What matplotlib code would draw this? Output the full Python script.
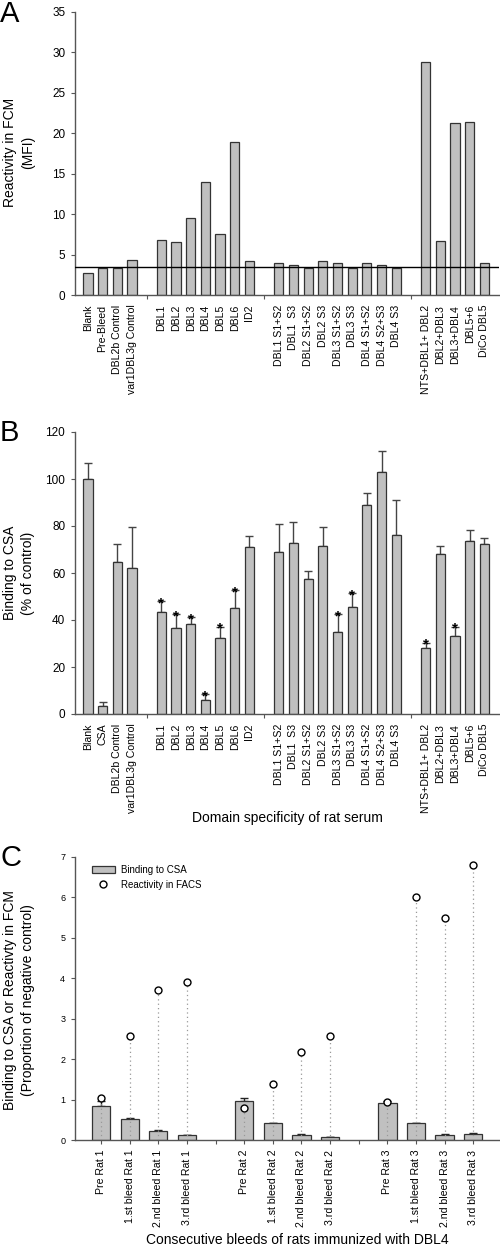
import numpy as np
import matplotlib.pyplot as plt

plt.rcParams['font.family'] = ['Liberation Sans', 'DejaVu Sans']

# ---- data ----
a_labels = ['Blank', 'Pre-Bleed', 'DBL2b Control', 'var1DBL3g Control',
            'DBL1', 'DBL2', 'DBL3', 'DBL4', 'DBL5', 'DBL6', 'ID2',
            'DBL1 S1+S2', 'DBL1  S3', 'DBL2 S1+S2', 'DBL2 S3', 'DBL3 S1+S2',
            'DBL3 S3', 'DBL4 S1+S2', 'DBL4 S2+S3', 'DBL4 S3',
            'NTS+DBL1+ DBL2', 'DBL2+DBL3', 'DBL3+DBL4', 'DBL5+6', 'DiCo DBL5']
a_values = [2.7, 3.4, 3.4, 4.3,
            6.8, 6.5, 9.5, 14.0, 7.5, 18.9, 4.2,
            3.9, 3.7, 3.3, 4.2, 4.0, 3.4, 3.9, 3.7, 3.4,
            28.8, 6.7, 21.3, 21.4, 3.9]
a_cutoff = 3.43

b_labels = ['Blank', 'CSA'] + a_labels[2:]
b_values = [99.9, 3.5, 64.8, 62.0,
            43.4, 36.5, 38.5, 5.9, 32.5, 45.0, 71.2,
            68.8, 72.7, 57.3, 71.3, 35.1, 45.7, 88.9, 103.0, 76.0,
            28.0, 67.9, 33.4, 73.7, 72.3]
b_err_top = [106.8, 5.0, 72.2, 79.5,
             48.1, 42.5, 41.2, 8.5, 37.2, 52.8, 75.8,
             80.7, 81.5, 61.0, 79.7, 42.5, 51.4, 94.1, 111.9, 91.0,
             30.4, 71.6, 37.2, 78.4, 74.9]
b_signif = ['DBL1', 'DBL2', 'DBL3', 'DBL4', 'DBL5', 'DBL6',
            'DBL3 S1+S2', 'DBL3 S3', 'NTS+DBL1+ DBL2', 'DBL3+DBL4']
group_sizes = [4, 7, 9, 5]

c_labels = ['Pre Rat 1', '1.st bleed Rat 1', '2.nd bleed Rat 1', '3.rd bleed Rat 1',
            'Pre Rat 2', '1.st bleed Rat 2', '2.nd bleed Rat 2', '3.rd bleed Rat 2',
            'Pre Rat 3', '1.st bleed Rat 3', '2.nd bleed Rat 3', '3.rd bleed Rat 3']
c_binding = [0.84, 0.52, 0.22, 0.12, 0.97, 0.41, 0.13, 0.065, 0.92, 0.41, 0.13, 0.155]
c_binding_err = [0.12, 0.015, 0.02, 0.01, 0.08, 0.015, 0.025, 0.01, 0.04, 0.015, 0.015, 0.025]
c_facs = [1.05, 2.58, 3.70, 3.91, 0.80, 1.38, 2.18, 2.57, 0.95, 6.01, 5.48, 6.80]
c_group_sizes = [4, 4, 4]

BAR = '#c0c0c0'
EDGE = '#333333'
SPINE = '#555555'


def positions(sizes):
    xs, gaps, start = [], [], 0
    for i, n in enumerate(sizes):
        xs.extend(range(start, start + n))
        start += n
        if i < len(sizes) - 1:
            gaps.append(start)
        start += 1
    return np.array(xs), gaps


def style_axis(ax):
    for s in ['top', 'right']:
        ax.spines[s].set_visible(False)
    for s in ['left', 'bottom']:
        ax.spines[s].set_color(SPINE)
        ax.spines[s].set_linewidth(1.0)
    ax.tick_params(axis='y', direction='out', length=3, width=0.8,
                   color=SPINE, labelsize=8.5, pad=4)


fig = plt.figure(figsize=(5, 12.54), dpi=100)
H = 1254.0

# ---- panel A ----
axA = fig.add_axes([0.15, 1 - 295 / H, 0.848, 283 / H])
xa, gaps = positions(group_sizes)
axA.bar(xa, a_values, width=0.63, color=BAR, edgecolor=EDGE, linewidth=0.9, zorder=2)
axA.axhline(a_cutoff, color='black', linewidth=1.0, zorder=3)
axA.set_ylim(0, 35)
axA.set_yticks(range(0, 36, 5))
axA.set_xlim(-0.88, 28.0)
axA.set_xticks(xa)
axA.set_xticklabels(a_labels, rotation=90, fontsize=7.6)
axA.tick_params(axis='x', which='major', length=0, pad=7)
axA.set_xticks(gaps, minor=True)
axA.tick_params(axis='x', which='minor', length=3, width=0.8, color=SPINE)
style_axis(axA)
fig.text(19 / 500, 1 - 152 / H, 'Reactivity in FCM\n(MFI)', rotation=90,
         ha='center', va='center', fontsize=10, linespacing=1.45)
fig.text(0.0, 1 - 14 / H, 'A', fontsize=21, ha='left', va='center')

# ---- panel B ----
axB = fig.add_axes([0.15, 1 - 714 / H, 0.848, 282 / H])
xb, gaps = positions(group_sizes)
b_err = np.array(b_err_top) - np.array(b_values)
axB.bar(xb, b_values, width=0.63, color=BAR, edgecolor=EDGE, linewidth=0.9, zorder=2)
axB.errorbar(xb, b_values, yerr=[np.zeros_like(b_err), b_err], fmt='none',
             ecolor='#444444', elinewidth=1.0, capsize=3.2, capthick=1.0, zorder=1)
for x, lab, top in zip(xb, b_labels, b_err_top):
    if lab in b_signif:
        axB.text(x, top - 1.0, '*', ha='center', va='center', fontsize=11,
                 fontweight='bold', zorder=4)
axB.set_ylim(0, 120)
axB.set_yticks(range(0, 121, 20))
axB.set_xlim(-0.88, 28.0)
axB.set_xticks(xb)
axB.set_xticklabels(b_labels, rotation=90, fontsize=7.6)
axB.tick_params(axis='x', which='major', length=0, pad=7)
axB.set_xticks(gaps, minor=True)
axB.tick_params(axis='x', which='minor', length=3, width=0.8, color=SPINE)
style_axis(axB)
fig.text(19 / 500, 1 - 573 / H, 'Binding to CSA\n(% of control)', rotation=90,
         ha='center', va='center', fontsize=10, linespacing=1.45)
fig.text(287 / 500, 1 - 818 / H, 'Domain specificity of rat serum',
         ha='center', va='center', fontsize=10)
fig.text(0.0, 1 - 433 / H, 'B', fontsize=21, ha='left', va='center')

# ---- panel C ----
axC = fig.add_axes([0.15, 1 - 1140 / H, 0.848, 283 / H])
xc, gaps = positions(c_group_sizes)
bars = axC.bar(xc, c_binding, width=0.64, color=BAR, edgecolor=EDGE, linewidth=0.9,
               zorder=2, label='Binding to CSA')
axC.errorbar(xc, c_binding, yerr=[np.zeros(len(xc)), c_binding_err], fmt='none',
             ecolor='#222222', elinewidth=1.0, capsize=3.0, capthick=1.0, zorder=1)
axC.vlines(xc, 0, c_facs, colors='#999999', linestyles=(0, (1, 2.5)),
           linewidth=0.9, zorder=3)
dots, = axC.plot(xc, c_facs, 'o', markersize=5, markerfacecolor='white',
                 markeredgecolor='black', markeredgewidth=1.0, linestyle='none',
                 zorder=4, label='Reactivity in FACS')
axC.set_ylim(0, 7)
axC.set_yticks(range(0, 8))
axC.set_xlim(-0.91, 13.9)
axC.set_xticks(xc)
axC.set_xticklabels(c_labels, rotation=90, fontsize=7.6)
axC.tick_params(axis='x', which='major', length=3, width=0.8, color=SPINE, pad=4)
axC.set_xticks(gaps, minor=True)
axC.tick_params(axis='x', which='minor', length=3, width=0.8, color=SPINE)
style_axis(axC)
axC.tick_params(axis='y', labelsize=6.5)
axC.legend([bars, dots], ['Binding to CSA', 'Reactivity in FACS'],
           loc='upper left', bbox_to_anchor=(0.03, 0.985), frameon=False,
           fontsize=7, handlelength=2.4, handleheight=0.8, borderaxespad=0,
           labelspacing=0.5, handletextpad=0.6)
fig.text(19 / 500, 1 - 1000 / H,
         'Binding to CSA or Reactivty in FCM\n(Proportion of negative control)',
         rotation=90, ha='center', va='center', fontsize=10, linespacing=1.45)
fig.text(297 / 500, 1 - 1240 / H, 'Consecutive bleeds of rats immunized with DBL4',
         ha='center', va='center', fontsize=10)
fig.text(0.0, 1 - 858 / H, 'C', fontsize=21, ha='left', va='center')

fig.savefig('out.png', dpi=100)
